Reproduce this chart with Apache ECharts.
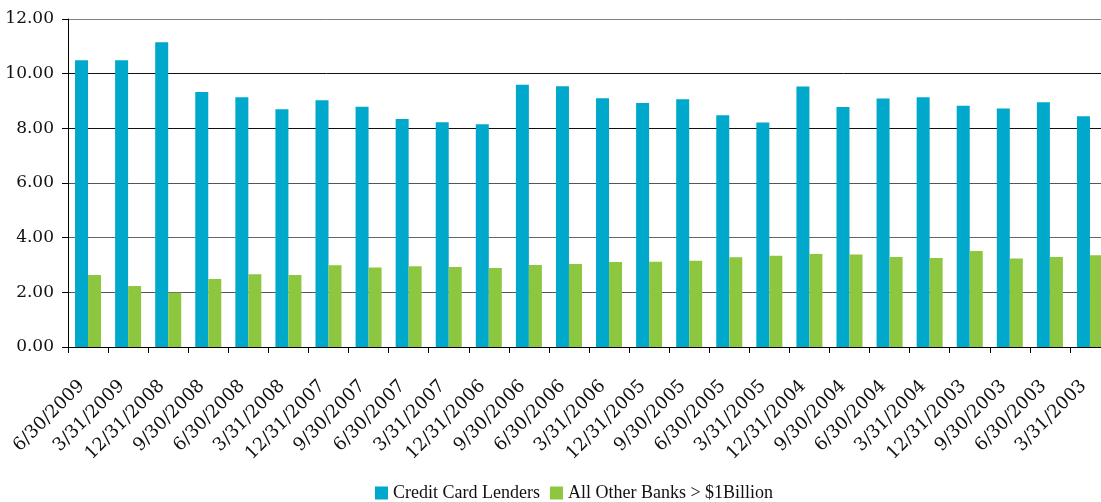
<!DOCTYPE html>
<html>
<head>
<meta charset="utf-8">
<script src="https://cdn.jsdelivr.net/npm/echarts@6/dist/echarts.min.js"></script>
<style>
html,body{margin:0;padding:0;background:#fff;}
#chart{width:1101px;height:502px;}
</style>
</head>
<body>
<div id="chart"></div>
<script>
const categories = ['6/30/2009','3/31/2009','12/31/2008','9/30/2008','6/30/2008','3/31/2008','12/31/2007','9/30/2007','6/30/2007','3/31/2007','12/31/2006','9/30/2006','6/30/2006','3/31/2006','12/31/2005','9/30/2005','6/30/2005','3/31/2005','12/31/2004','9/30/2004','6/30/2004','3/31/2004','12/31/2003','9/30/2003','6/30/2003','3/31/2003'];
const creditCardLenders = [10.49,10.49,11.15,9.33,9.14,8.70,9.03,8.79,8.34,8.22,8.15,9.59,9.54,9.10,8.93,9.06,8.48,8.21,9.53,8.78,9.09,9.14,8.83,8.73,8.95,8.44];
const allOtherBanks = [2.63,2.23,1.99,2.49,2.66,2.63,2.99,2.91,2.95,2.93,2.89,3.00,3.04,3.11,3.12,3.16,3.28,3.34,3.40,3.38,3.29,3.26,3.51,3.24,3.29,3.36];
const seriesNames = ['Credit Card Lenders','All Other Banks > $1Billion'];
const yTicks = {min: 0, max: 12, interval: 2};

const chart = echarts.init(document.getElementById('chart'), null, {renderer: 'canvas'});
chart.setOption({
  animation: false,
  backgroundColor: '#ffffff',
  grid: {left: 68, top: 19, right: -9, bottom: 155, containLabel: false, outerBoundsMode: 'none'},
  legend: {
    data: seriesNames,
    left: 375, top: 484, padding: 0,
    itemWidth: 13, itemHeight: 13, itemGap: 10,
    icon: 'rect',
    textStyle: {fontFamily: 'Liberation Serif', fontSize: 18, color: '#111'}
  },
  xAxis: {
    type: 'category',
    data: categories,
    axisLine: {lineStyle: {color: '#000', width: 1}},
    axisTick: {show: true, length: 6, lineStyle: {color: '#000'}},
    axisLabel: {
      rotate: 45, margin: 30, interval: 0, padding: [0, 9, 0, 0],
      fontFamily: 'DejaVu Serif', fontSize: 18, color: '#111'
    },
    splitLine: {show: false}
  },
  yAxis: {
    type: 'value',
    min: yTicks.min, max: yTicks.max, interval: yTicks.interval,
    axisLine: {show: true, lineStyle: {color: '#000', width: 1}},
    axisTick: {show: true, length: 6, lineStyle: {color: '#000'}},
    axisLabel: {
      margin: 14,
      fontFamily: 'DejaVu Serif', fontSize: 17, color: '#111',
      formatter: v => v.toFixed(2)
    },
    splitLine: {show: true, lineStyle: {color: ['#333','#555','#666','#555','#111','#111','#808080'], width: 1}}
  },
  series: [
    {name: seriesNames[0], type: 'bar', data: creditCardLenders, barWidth: 13, barGap: '0%',
     itemStyle: {color: '#00A8CC'}},
    {name: seriesNames[1], type: 'bar', data: allOtherBanks, barWidth: 13, barGap: '0%',
     itemStyle: {color: '#8DC63F'}}
  ]
});
</script>
</body>
</html>
